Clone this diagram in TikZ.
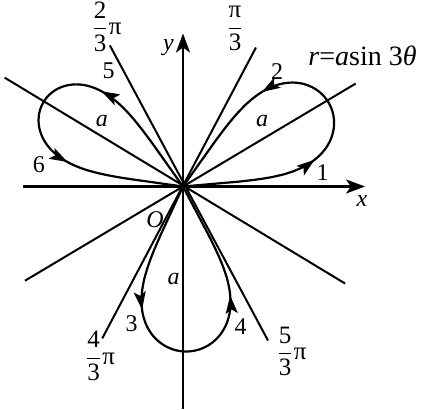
\documentclass[tikz,border=0pt]{standalone}
\usepackage{amsmath}
\usepackage{fontspec}
\setmainfont{Liberation Serif}
\usetikzlibrary{arrows.meta,decorations.markings}

\begin{document}
\begin{tikzpicture}[
  x=0.5pt, y=0.5pt,
  axis/.style={line width=1.1pt,-{Stealth[length=9.5pt,width=7pt,inset=2.5pt]}},
  ray/.style={line width=1pt},
  petal/.style 2 args={line width=1.1pt,postaction={decorate},
    decoration={markings,
      mark=at position #1 with {\arrow{Stealth[length=9pt,width=6pt,inset=2pt]}},
      mark=at position #2 with {\arrow{Stealth[length=9pt,width=6pt,inset=2pt]}}}},
  lab/.style={font=\fontsize{12}{14}\selectfont,inner sep=0pt}
]
  \useasboundingbox (-183,-222.5) rectangle (244,186.5);
  % axes
  \coordinate (O) at (0,0);
  \coordinate (xl) at (-160,0);
  \coordinate (xr) at (182,0);
  \coordinate (yb) at (0,-222);
  \coordinate (yt) at (0,153);
  \draw[axis] (xl) -- (xr);
  \draw[axis] (yb) -- (yt);
  % lines through the pole
  \draw[ray] (210.8:184) -- (30.8:201);
  \draw[ray] (-30.9:189) -- (148.6:209);
  \draw[ray] (242:172) -- (62.3:157);
  \draw[ray] (298.9:176) -- (117.4:159);
  % petals of the rose
  \draw[petal={0.34}{0.69}] (O) -- plot[domain=5:54.6,samples=160]
    (\x:{168*exp(0.25*ln(cos(90*(\x-29.8)/25)))}) -- cycle;
  \draw[petal={0.33}{0.69}] (O) -- plot[domain=125.4:172,samples=160]
    (\x:{163*exp(0.25*ln(cos(90*(\x-148.7)/23.5)))}) -- cycle;
  \draw[petal={0.33}{0.7}] (O) -- plot[domain=245.2:297.8,samples=160]
    (\x:{165*exp(0.25*ln(cos(90*(\x-271.5)/26.5)))}) -- cycle;
  % labels
  \node[lab] (one) at (139.5,13.5) {1};
  \node[lab] (two) at (94,115) {2};
  \node[lab] (three) at (-51.5,-137) {3};
  \node[lab] (four) at (57.5,-140) {4};
  \node[lab] (five) at (-74.5,116) {5};
  \node[lab] (six) at (-144,21.5) {6};
  \node[lab] (aone) at (79,65.5) {\textit{a}};
  \node[lab] (atwo) at (-81,65.5) {\textit{a}};
  \node[lab] (athree) at (-9.5,-92) {\textit{a}};
  \node[lab] (orig) at (-28,-33) {\textit{O}};
  \node[lab] (ylab) at (-14.5,139) {\textit{y}};
  \node[lab] (xlab) at (179,-14.5) {\textit{x}};
  \node[lab,font=\fontsize{14}{16}\selectfont,anchor=base west] (rose) at (125,121)
    {\textit{r}=\textit{a}sin 3\textit{θ}};
  \node[lab,font=\fontsize{12.5}{14}\selectfont] (pthird) at (52,158) {$\dfrac{\mbox{π}}{\mbox{3}}$};
  \node[lab,font=\fontsize{12.5}{14}\selectfont] (twothird) at (-76.5,160) {$\dfrac{\mbox{2}}{\mbox{3}}\mbox{π}$};
  \node[lab,font=\fontsize{12.5}{14}\selectfont] (fourthird) at (-83,-169.5) {$\dfrac{\mbox{4}}{\mbox{3}}\mbox{π}$};
  \node[lab,font=\fontsize{12.5}{14}\selectfont] (fivethird) at (108.5,-165) {$\dfrac{\mbox{5}}{\mbox{3}}\mbox{π}$};
\end{tikzpicture}
\end{document}
